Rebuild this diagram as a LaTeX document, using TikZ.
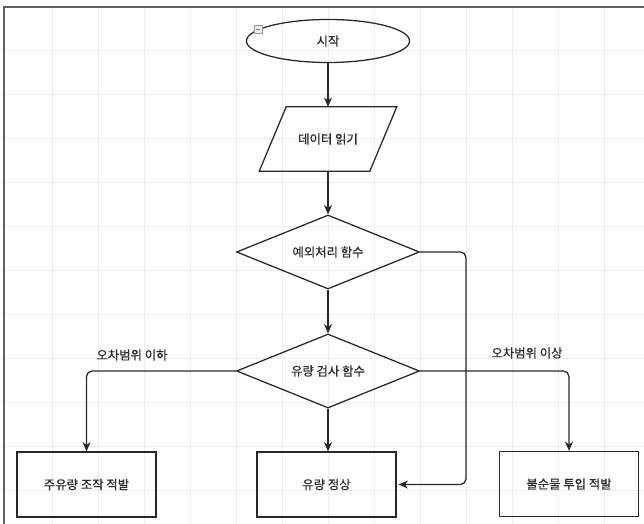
\documentclass[tikz,border=0pt]{standalone}
\usepackage{fontspec}
\setmainfont{Noto Sans CJK KR}[FakeBold=0.7]
\usepackage{tikz}
\usetikzlibrary{arrows.meta,shapes,positioning}
\usepackage{xcolor}
\definecolor{fcline}{RGB}{40,40,40}
\definecolor{fctext}{RGB}{45,45,45}
\definecolor{fcgrid}{RGB}{238,238,238}
\definecolor{fcframe}{RGB}{95,95,95}
\tikzstyle{arrow} = [line width=0.9pt,-{Stealth[length=2.3mm,width=2mm,inset=0.7mm]},color=fcline,rounded corners=0.14cm]
\tikzstyle{terminal} = [ellipse,draw=fcline,line width=0.9pt,minimum width=4.075cm,minimum height=1.075cm,inner sep=0pt]
\tikzstyle{iobox} = [rectangle,minimum width=3.425cm,minimum height=1.6cm,inner sep=0pt]
\tikzstyle{decision} = [diamond,draw=fcline,line width=0.9pt,shape aspect=2.5,minimum width=4.575cm,minimum height=1.85cm,inner sep=0pt]
\tikzstyle{process} = [rectangle,draw=fcline,line width=0.9pt,minimum width=3.475cm,minimum height=1.625cm,inner sep=0pt]

\begin{document}
\begin{tikzpicture}[x=0.025cm, y=-0.025cm, font=\fontsize{8.8}{10}\selectfont, text=fctext]
\useasboundingbox (0,0) rectangle (644,524);
\fill[white] (0,0) rectangle (644,524);

% Background grid
\foreach \gx in {52,98,...,604} \draw[fcgrid, line width=0.6pt] (\gx,7) -- (\gx,524);
\foreach \gy in {50,94,...,490} \draw[fcgrid, line width=0.6pt] (4,\gy) -- (644,\gy);

% Page frame
\draw[fcframe, line width=1.2pt] (4,524) -- (4,7) -- (644,7);

% Flow nodes
\node[terminal] (start) at (328,41) {시작};
\node[iobox] (readdata) at (328,139) {데이터 읽기};
\draw[fcline, line width=0.9pt] ([xshift=0.675cm]readdata.north west) -- (readdata.north east)
  -- ([xshift=-0.675cm]readdata.south east) -- (readdata.south west) -- cycle;
\node[decision] (excfunc) at (328,252) {예외처리 함수};
\node[decision] (flowcheck) at (328,371) {유량 검사 함수};
\node[process] (fraud) at (86.5,484.5) {주유량 조작 적발};
\node[process] (normal) at (326.5,484.5) {유량 정상};
\node[process] (impurity) at (569,484) {불순물 투입 적발};

% Collapse marker on the start node
\node[draw=gray!80, fill=gray!15, line width=0.4pt, minimum size=0.2cm, inner sep=0pt] (collapse) at (258,29) {};
\draw[gray, line width=0.4pt] ([xshift=-0.06cm]collapse.center) -- ([xshift=0.06cm]collapse.center);

% Branch labels
\node (lowlabel) at (132,355) {오차범위 이하};
\node (highlabel) at (527,353) {오차범위 이상};

% Connectors
\coordinate (bypass) at (466,252);
\draw[arrow] (start) -- (readdata);
\draw[arrow] (readdata) -- (excfunc);
\draw[arrow] (excfunc) -- (flowcheck);
\draw[arrow] (flowcheck.south) -- (flowcheck.south |- normal.north);
\draw[arrow] (flowcheck.west) -| (fraud.north);
\draw[arrow] (flowcheck.east) -| (impurity.north);
\draw[arrow] (excfunc.east) -- (bypass) |- ([xshift=0.05cm]normal.east);
\end{tikzpicture}
\end{document}
